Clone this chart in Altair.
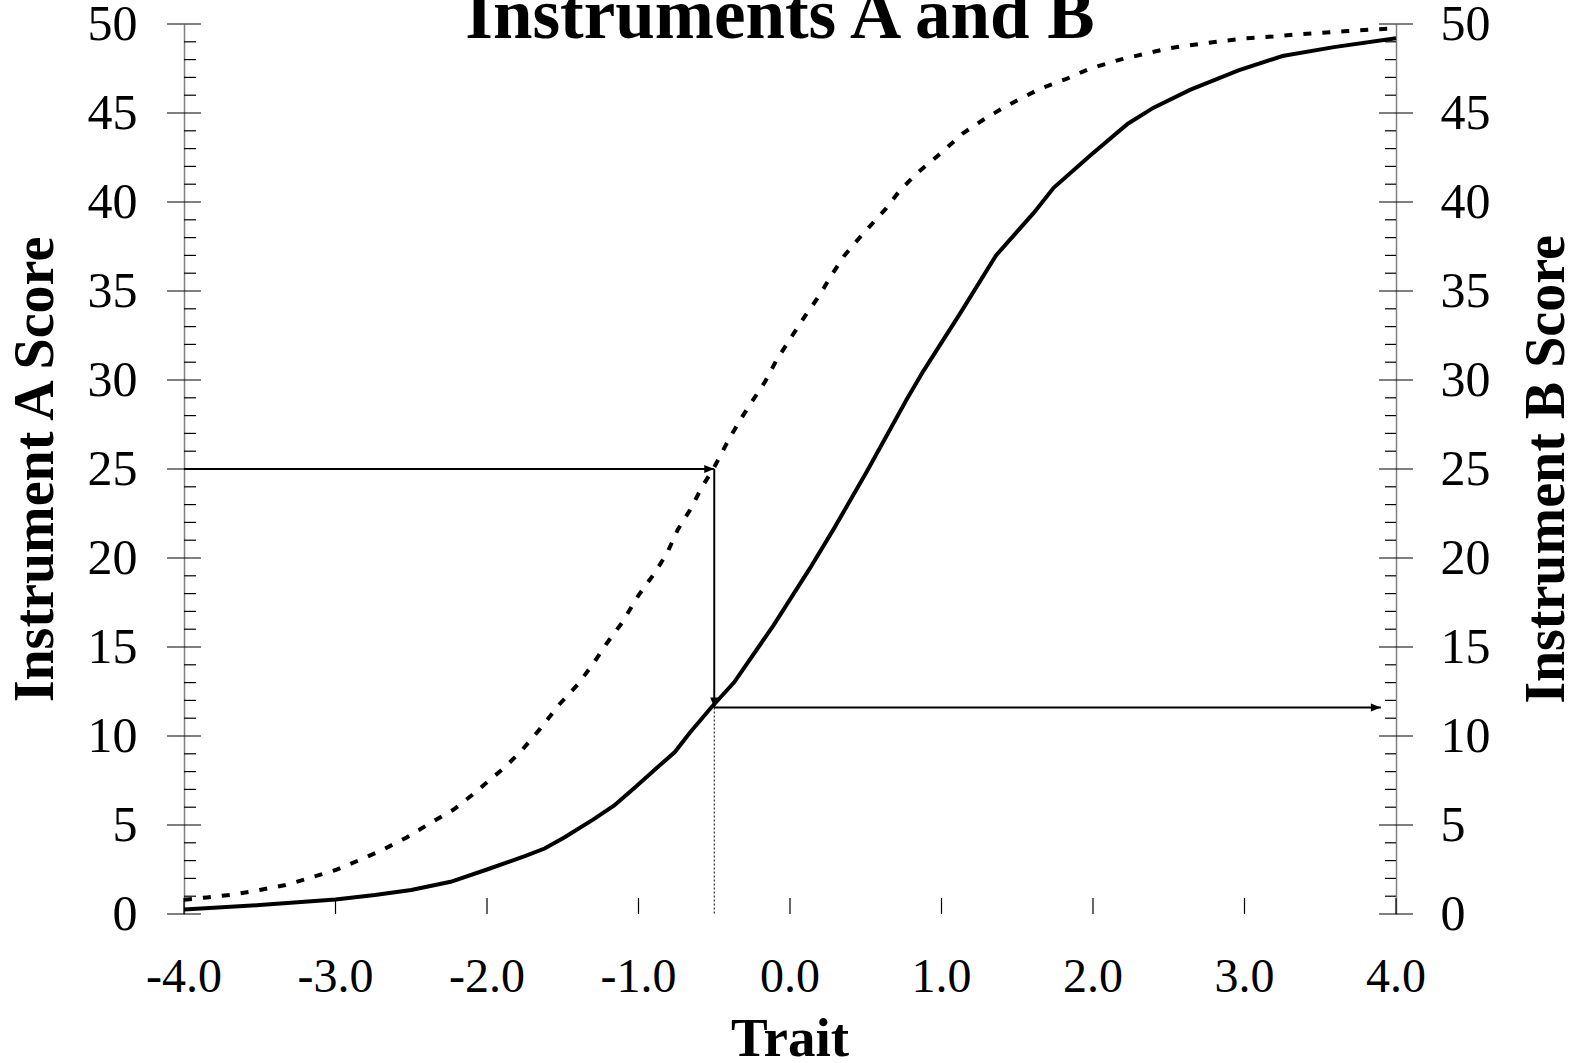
import altair as alt
import pandas as pd

# ---------------- data ----------------
trait_a = [-4.0, -3.5, -3.0, -2.74, -2.5, -2.24, -2.0, -1.75, -1.62, -1.49, -1.3, -1.16,
           -1.02, -0.88, -0.76, -0.66, -0.52, -0.37, -0.11, 0.13, 0.29, 0.51, 0.77, 0.88,
           1.12, 1.36, 1.61, 1.74, 1.98, 2.23, 2.40, 2.64, 2.96, 3.25, 3.59, 4.0]
score_a = [0.25, 0.5, 0.82, 1.07, 1.35, 1.81, 2.5, 3.25, 3.68, 4.3, 5.3, 6.1,
           7.14, 8.2, 9.1, 10.2, 11.6, 13.0, 16.2, 19.4, 21.65, 24.9, 28.9, 30.5,
           33.7, 37.0, 39.4, 40.8, 42.6, 44.4, 45.3, 46.3, 47.4, 48.2, 48.7, 49.2]

trait_b = [-4.0, -3.85, -3.67, -3.5, -3.33, -3.18, -3.0, -2.85, -2.69, -2.53, -2.36, -2.22,
           -2.10, -2.0, -1.88, -1.77, -1.65, -1.52, -1.40, -1.30, -1.21, -1.11, -1.0, -0.89,
           -0.81, -0.74, -0.66, -0.58, -0.5, -0.42, -0.34, -0.25, -0.165, -0.09, 0.0, 0.10,
           0.19, 0.275, 0.36, 0.47, 0.63, 0.73, 0.85, 0.99, 1.14, 1.29, 1.43, 1.52,
           1.66, 1.82, 1.98, 2.18, 2.33, 2.51, 2.68, 2.84, 3.01, 3.19, 3.32, 3.51,
           3.68, 3.87, 4.0]
score_b = [0.8, 0.93, 1.1, 1.35, 1.63, 2.0, 2.47, 3.0, 3.6, 4.3, 5.18, 5.87,
           6.67, 7.4, 8.26, 9.2, 10.4, 11.8, 12.9, 14.05, 15.2, 16.35, 17.9, 19.2,
           20.3, 21.6, 22.7, 24.0, 25.1, 26.4, 27.6, 28.8, 29.9, 31.1, 32.3, 33.6,
           34.7, 35.9, 37.0, 38.1, 39.6, 40.7, 41.7, 42.7, 43.85, 44.7, 45.4, 45.8,
           46.4, 46.9, 47.5, 48.0, 48.3, 48.65, 48.85, 49.03, 49.2, 49.3, 49.4, 49.5,
           49.6, 49.7, 49.75]

x_ticks = [-4, -3, -2, -1, 0, 1, 2, 3, 4]
x_tick_labels = ["-4.0", "-3.0", "-2.0", "-1.0", "0.0", "1.0", "2.0", "3.0", "4.0"]
y_major = [0, 5, 10, 15, 20, 25, 30, 35, 40, 45, 50]
y_minor = [v for v in range(0, 51) if v % 5 != 0]
x_min, x_max = -4.0, 4.0
y_min, y_max = 0.0, 50.0

# arrows: A score 25 -> trait -0.5 -> B score 11.6
arrow_x1 = [-4.0, -0.5, -0.5]
arrow_y1 = [25.0, 25.0, 11.6]
arrow_x2 = [-0.5, -0.5, 3.9]
arrow_y2 = [25.0, 11.6, 11.6]
head_right_x = [-0.5, 3.9]
head_right_y = [25.0, 11.6]
head_down_x = [-0.5]
head_down_y = [11.6]
guide_x = [-0.5]
guide_y = [11.6]
guide_y0 = [0.0]

title_text = "Instruments A and B"
x_title = "Trait"
ya_title = "Instrument A Score"
yb_title = "Instrument B Score"

# ---------------- styling ----------------
FONT = "Liberation Serif"
W = 1212          # plot width
PLOT_H = 890      # height of the scored region
BOTTOM = 149      # room below the x axis (kept inside the group)
H = PLOT_H + BOTTOM
XS = alt.Scale(domain=[x_min, x_max], nice=False, zero=False)
YS = alt.Scale(domain=[y_min, y_max], range=[PLOT_H, 0], nice=False, zero=False)
DOMAIN_COLOR = "#808080"

common_axis = dict(
    ticks=False, tickSize=0, grid=False,
    labelFont=FONT, labelColor="black",
    labelFlush=False, labelOverlap=False,
    domainColor=DOMAIN_COLOR, domainWidth=1.5,
    titleFont=FONT, titleFontWeight="bold", titleColor="black",
    titleBaseline="alphabetic", titleAlign="center",
)

# x axis: domain line only (tick labels and title are drawn as text below)
x_axis = alt.Axis(
    orient="bottom", values=x_ticks, offset=-BOTTOM,
    labels=False, title=None,
    ticks=False, tickSize=0, grid=False,
    domainColor=DOMAIN_COLOR, domainWidth=1.5,
)
ya_axis = alt.Axis(
    orient="left", values=y_major, labelFontSize=50, labelPadding=47,
    title=ya_title, titleFontSize=56, titleAngle=270, titleX=-132, titleY=PLOT_H / 2,
    **common_axis,
)
yb_axis = alt.Axis(
    orient="right", values=y_major, labelFontSize=50, labelPadding=44,
    title=yb_title, titleFontSize=56, titleAngle=270, titleX=167, titleY=PLOT_H / 2,
    **common_axis,
)


def ynone(field):
    return alt.Y(field, scale=YS, axis=None)


def xnone(field):
    return alt.X(field, scale=XS, axis=None)


df_a = pd.DataFrame({"trait": trait_a, "score": score_a})
df_b = pd.DataFrame({"trait": trait_b, "score": score_b})

line_a = alt.Chart(df_a).mark_line(color="black", strokeWidth=4).encode(
    x=alt.X("trait:Q", scale=XS, axis=x_axis),
    y=alt.Y("score:Q", scale=YS, axis=ya_axis),
)

line_b = alt.Chart(df_b).mark_line(
    color="black", strokeWidth=4, strokeDash=[8, 11], strokeCap="butt"
).encode(
    x=xnone("trait:Q"),
    y=alt.Y("score:Q", scale=YS, axis=yb_axis),
)

df_major_l = pd.DataFrame({"v": y_major, "x": [x_min] * len(y_major)})
df_minor_l = pd.DataFrame({"v": y_minor, "x": [x_min] * len(y_minor)})
df_major_r = pd.DataFrame({"v": y_major, "x": [x_max] * len(y_major)})
df_minor_r = pd.DataFrame({"v": y_minor, "x": [x_max] * len(y_minor)})
df_xt = pd.DataFrame({"t": x_ticks, "lab": x_tick_labels, "y": [y_min] * len(x_ticks)})


def ytick_rule(df, off1, off2):
    return alt.Chart(df).mark_rule(
        color="black", strokeWidth=1.2, xOffset=off1, x2Offset=off2
    ).encode(x=xnone("x:Q"), x2="x:Q", y=ynone("v:Q"))


left_major = ytick_rule(df_major_l, -17, 17)
left_minor = ytick_rule(df_minor_l, 0, 12)
right_major = ytick_rule(df_major_r, -17, 17)
right_minor = ytick_rule(df_minor_r, -11, 0)

x_tick_marks = alt.Chart(df_xt).mark_rule(
    color="black", strokeWidth=1.2, yOffset=-16, y2Offset=0
).encode(x=xnone("t:Q"), y=ynone("y:Q"), y2="y:Q")

x_tick_text = alt.Chart(df_xt).mark_text(
    font=FONT, fontSize=48, color="black", align="center", baseline="alphabetic", dy=78
).encode(x=xnone("t:Q"), y=ynone("y:Q"), text="lab:N")

x_title_text = alt.Chart(pd.DataFrame({"t": [x_title]})).mark_text(
    font=FONT, fontSize=55, fontWeight="bold", color="black",
    align="center", baseline="alphabetic",
).encode(text="t:N", x=alt.value(W / 2), y=alt.value(PLOT_H + 142))

df_arrows = pd.DataFrame({"x1": arrow_x1, "y1": arrow_y1, "x2": arrow_x2, "y2": arrow_y2})
arrows = alt.Chart(df_arrows).mark_rule(color="black", strokeWidth=2).encode(
    x=xnone("x1:Q"), x2="x2:Q", y=ynone("y1:Q"), y2="y2:Q"
)

head_r = alt.Chart(pd.DataFrame({"x": head_right_x, "y": head_right_y})).mark_point(
    shape="M0,0L-2,-0.8L-2,0.8Z", size=100, filled=True, color="black", opacity=1,
    strokeWidth=0,
).encode(x=xnone("x:Q"), y=ynone("y:Q"))

head_d = alt.Chart(pd.DataFrame({"x": head_down_x, "y": head_down_y})).mark_point(
    shape="M0,0L-0.8,-2L0.8,-2Z", size=100, filled=True, color="black", opacity=1,
    strokeWidth=0,
).encode(x=xnone("x:Q"), y=ynone("y:Q"))

guide = alt.Chart(pd.DataFrame({"x": guide_x, "y": guide_y, "y0": guide_y0})).mark_rule(
    color="black", strokeWidth=1, strokeDash=[2, 2]
).encode(x=xnone("x:Q"), y=ynone("y:Q"), y2="y0:Q")

title = alt.Chart(pd.DataFrame({"t": [title_text]})).mark_text(
    font=FONT, fontSize=71, fontWeight="bold", color="black",
    align="center", baseline="alphabetic",
).encode(text="t:N", x=alt.value(596), y=alt.value(14))

chart = alt.layer(
    line_a, guide, arrows, head_r, head_d,
    left_major, left_minor, right_major, right_minor, x_tick_marks,
    line_b, x_tick_text, x_title_text, title,
).resolve_scale(
    y="independent"
).properties(
    width=W, height=H,
    autosize=alt.AutoSizeParams(type="none"),
    padding={"left": 184, "top": 24, "right": 183, "bottom": 0},
    background="white",
).configure_view(stroke=None)

chart.save("out.html", embed_options={"renderer": "svg", "actions": False})
